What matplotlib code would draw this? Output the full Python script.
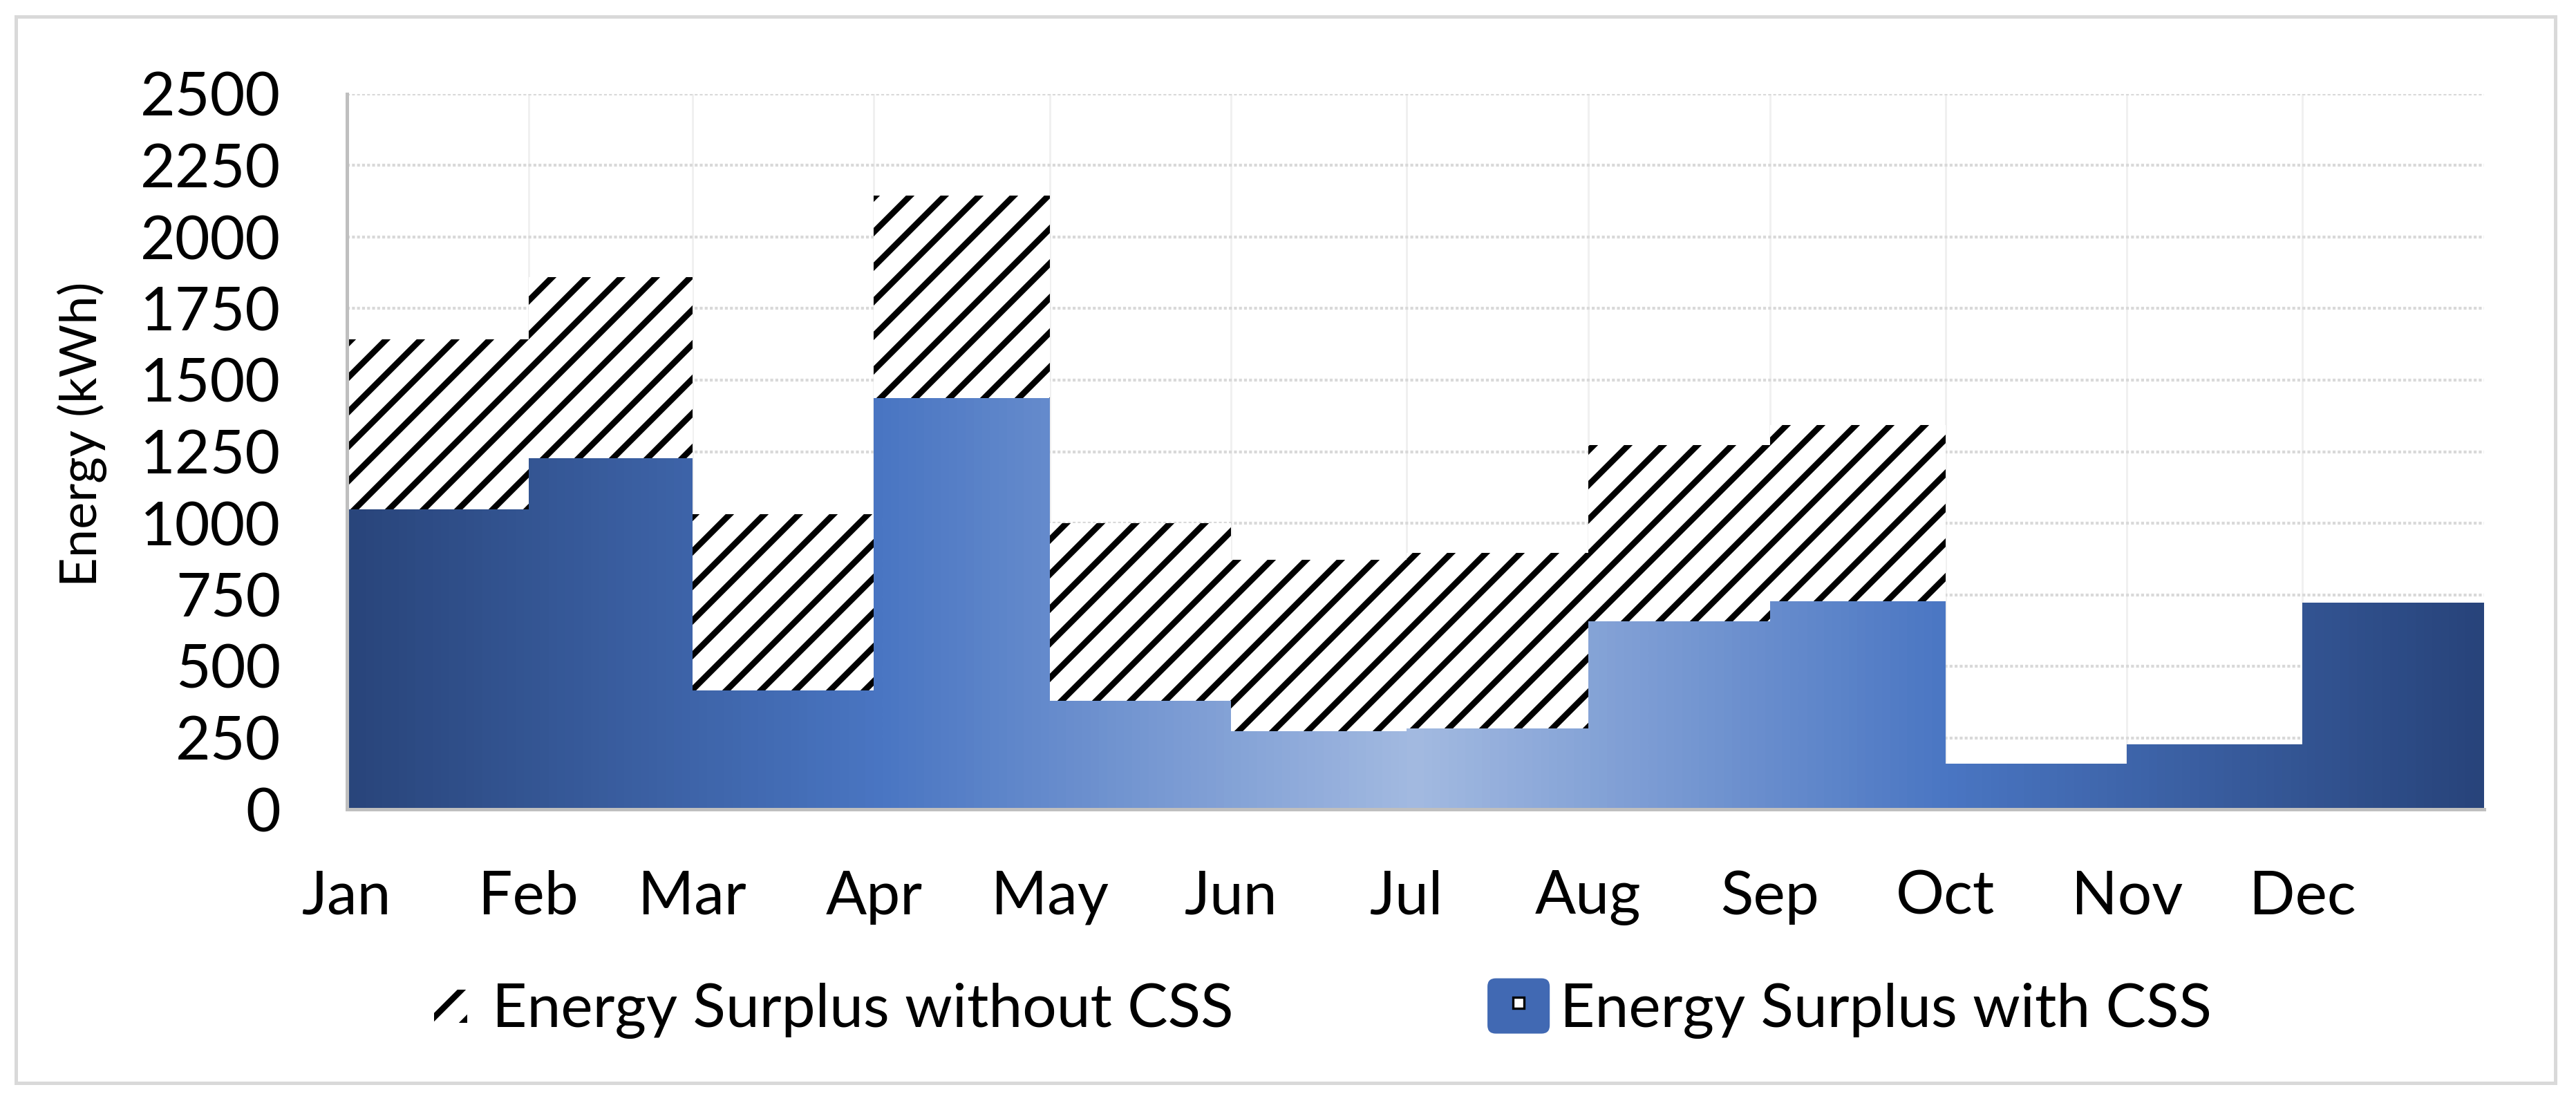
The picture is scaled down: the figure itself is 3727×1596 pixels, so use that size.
import numpy as np
import matplotlib.pyplot as plt
from matplotlib.colors import LinearSegmentedColormap
from matplotlib.patches import Patch, Rectangle, FancyBboxPatch
from matplotlib.lines import Line2D
from matplotlib.legend_handler import HandlerPatch

# monthly energy surplus (kWh), one value per month, step chart over the year
months = ['Jan', 'Feb', 'Mar', 'Apr', 'May', 'Jun', 'Jul', 'Aug', 'Sep', 'Oct', 'Nov', 'Dec']
month_start = [0, 31, 59, 90, 120, 151, 181, 212, 243, 273, 304, 334]
year_days = 365
surplus_without_css = [1643, 1860, 1031, 2145, 1000, 873, 897, 1272, 1344, 160, 228, 722]
surplus_with_css = [1049, 1228, 416, 1436, 379, 274, 282, 656, 727, 160, 228, 722]
y_ticks = [0, 250, 500, 750, 1000, 1250, 1500, 1750, 2000, 2250, 2500]
labels = ['Energy Surplus without CSS', 'Energy Surplus with CSS']

plt.rcParams['font.family'] = ['Lato', 'DejaVu Sans']
plt.rcParams['hatch.linewidth'] = 2.1

W, H, DPI = 3728, 1596, 300
fig = plt.figure(figsize=(W / DPI, H / DPI), dpi=DPI)
ax = fig.add_axes([502 / W, 1 - 1171 / H, (3594 - 502) / W, (1171 - 136) / H])

edges = np.array(month_start + [year_days])
top_without = np.append(surplus_without_css, surplus_without_css[-1])
top_with = np.append(surplus_with_css, surplus_with_css[-1])

ax.fill_between(edges, 0, top_without, step='post', facecolor='white',
                edgecolor='black', hatch='//', linewidth=0, zorder=2)
blue = ax.fill_between(edges, 0, top_with, step='post', facecolor='none',
                       linewidth=0, zorder=3)

# gradient fill for the "with CSS" area, clipped to its step outline
cmap = LinearSegmentedColormap.from_list('css', [(0.0, '#29457b'), (0.25, '#4a76c3'),
                                                 (0.5, '#a3bae1'), (0.75, '#4a76c3'),
                                                 (1.0, '#28447b')])
grad = np.linspace(0, 1, 512).reshape(1, -1)
im = ax.imshow(grad, cmap=cmap, extent=(0, year_days, 0, y_ticks[-1]), aspect='auto',
               origin='lower', interpolation='bicubic', zorder=3)
im.set_clip_path(blue.get_paths()[0], transform=ax.transData)

ax.set_xlim(0, year_days)
ax.set_ylim(0, y_ticks[-1])
ax.set_xticks(month_start, months)
ax.set_yticks(y_ticks)
ax.set_axisbelow(True)
ax.grid(axis='y', color='#d9d9d9', linestyle=(0, (1, 0.75)), linewidth=1.0)
ax.grid(axis='x', color='#f0f0f0', linewidth=0.7)
ax.tick_params(length=0, labelsize=21, colors='black')
ax.tick_params(axis='y', pad=23)
ax.tick_params(axis='x', pad=21)
for s in ['top', 'right']:
    ax.spines[s].set_visible(False)
for s in ['left', 'bottom']:
    ax.spines[s].set_color('#bfbfbf')
    ax.spines[s].set_linewidth(1.2)
    ax.spines[s].set_zorder(5)

ax.set_ylabel('Energy (kWh)', fontsize=17.8)
ax.yaxis.set_label_coords(-0.1122, 0.5246)


def hatch_icon(legend, orig_handle, xdescent, ydescent, width, height, fontsize):
    s = height * 0.6
    return Rectangle((-xdescent + (width - s) / 2, -ydescent + (height - s) / 2), s, s)


def round_icon(legend, orig_handle, xdescent, ydescent, width, height, fontsize):
    return FancyBboxPatch((-xdescent, -ydescent), width, height,
                          boxstyle='round,pad=0,rounding_size=%f' % (height * 0.15))


h_without = Patch(facecolor='white', edgecolor='black', hatch='//', linewidth=0)
h_with = Patch(facecolor='#4169b3', edgecolor='none', linewidth=0)
h_mark = Line2D([], [], marker='s', markersize=4, markerfacecolor='white',
                markeredgecolor='black', markeredgewidth=0.8, linestyle='none')

fig.legend([h_without, (h_with, h_mark)], labels, loc='center',
           bbox_to_anchor=(0.5106, 0.0858), ncol=2, frameon=False, fontsize=21,
           handlelength=1.03, handleheight=1.03, handletextpad=0.17,
           columnspacing=4.2, borderpad=0, borderaxespad=0,
           handler_map={h_without: HandlerPatch(hatch_icon), h_with: HandlerPatch(round_icon)})

fig.add_artist(Rectangle((23 / W, 1 - 1567 / H), (3697 - 23) / W, (1567 - 24) / H,
                         transform=fig.transFigure, fill=False, edgecolor='#d9d9d9',
                         linewidth=1.2))

fig.savefig('out.png', dpi=DPI)
